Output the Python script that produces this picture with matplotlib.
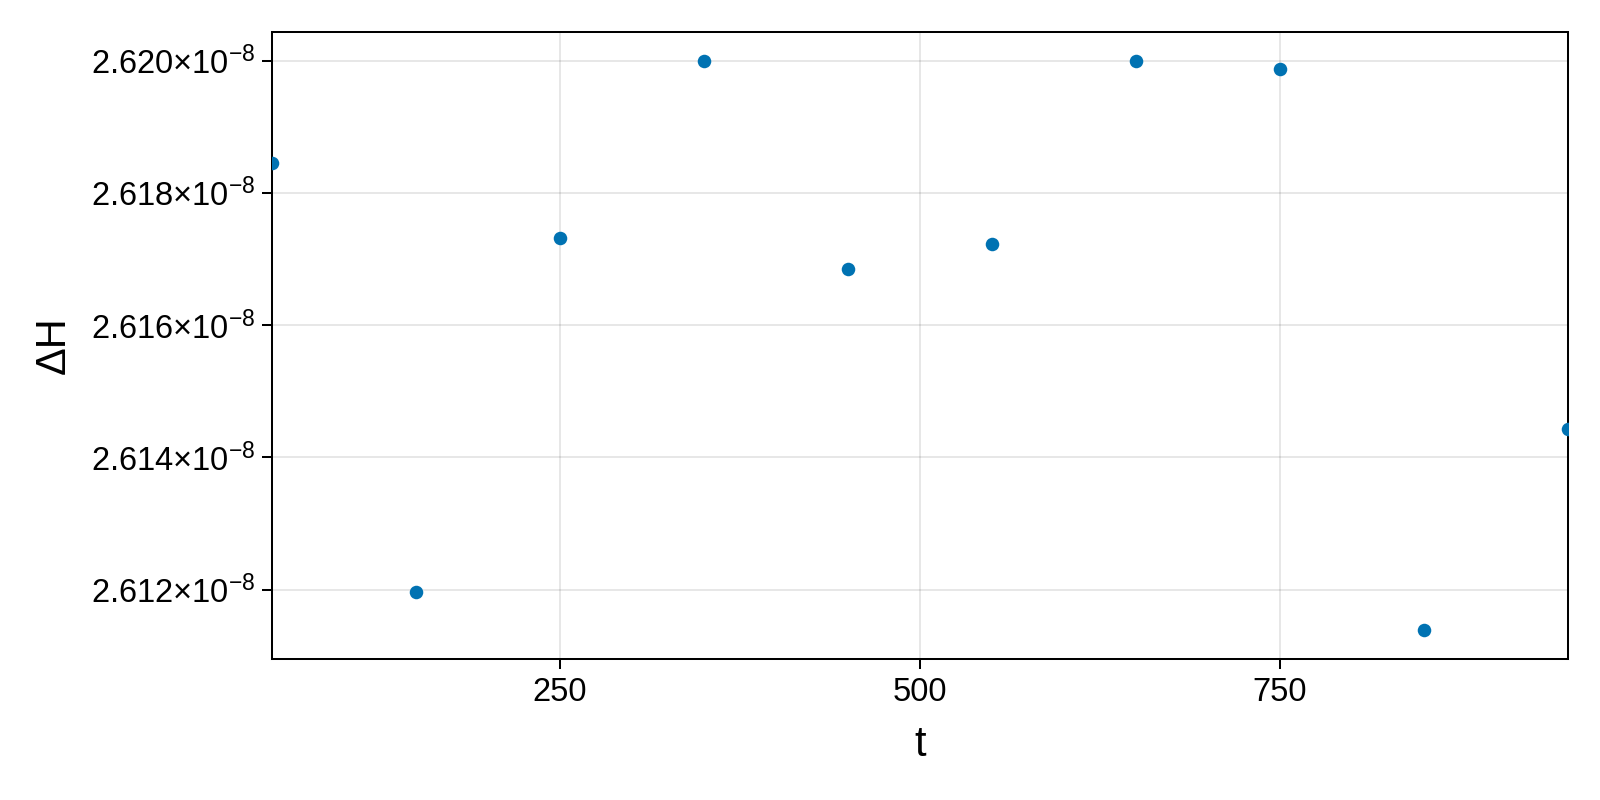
import matplotlib
matplotlib.use("Agg")
import matplotlib.pyplot as plt
from matplotlib.ticker import MultipleLocator, FuncFormatter

plt.rcParams['font.family'] = ['Liberation Sans', 'DejaVu Sans']
plt.rcParams['mathtext.fontset'] = 'custom'
plt.rcParams['mathtext.rm'] = 'Liberation Sans'
plt.rcParams['mathtext.it'] = 'Liberation Sans:italic'
plt.rcParams['mathtext.bf'] = 'Liberation Sans:bold'

# values
t = [50, 150, 250, 350, 450, 550, 650, 750, 850, 950]
dH = [2.61845e-8, 2.61196e-8, 2.61732e-8, 2.62000e-8, 2.61685e-8,
      2.61723e-8, 2.62000e-8, 2.61987e-8, 2.61138e-8, 2.61442e-8]

fig = plt.figure(figsize=(16, 8), dpi=100)
ax = fig.add_axes([0.17, 0.17625, 0.81, 0.78375])

ax.scatter(t, dH, s=95, color='#0072b2', linewidths=0, zorder=3, clip_on=True)

ax.set_xlim(50, 950)
ax.margins(y=0.05)
ax.xaxis.set_major_locator(MultipleLocator(250))
ax.yaxis.set_major_locator(MultipleLocator(0.002e-8))


def sci_fmt(v, pos):
    return f"{v * 1e8:.3f}" + r"$\times10^{-8}$"


ax.yaxis.set_major_formatter(FuncFormatter(sci_fmt))
ax.yaxis.get_offset_text().set_visible(False)

ax.grid(True, color='black', alpha=0.12, linewidth=1.1)
ax.set_axisbelow(True)
for sp in ax.spines.values():
    sp.set_linewidth(1.45)
ax.tick_params(direction='out', length=7.2, width=1.45, labelsize=23.5)
ax.tick_params(axis='x', pad=6)
ax.tick_params(axis='y', pad=5)

ax.set_xlabel('t', fontsize=30, labelpad=12)
ax.set_ylabel('ΔH', fontsize=30, labelpad=12)

fig.savefig('out.png', dpi=100)
